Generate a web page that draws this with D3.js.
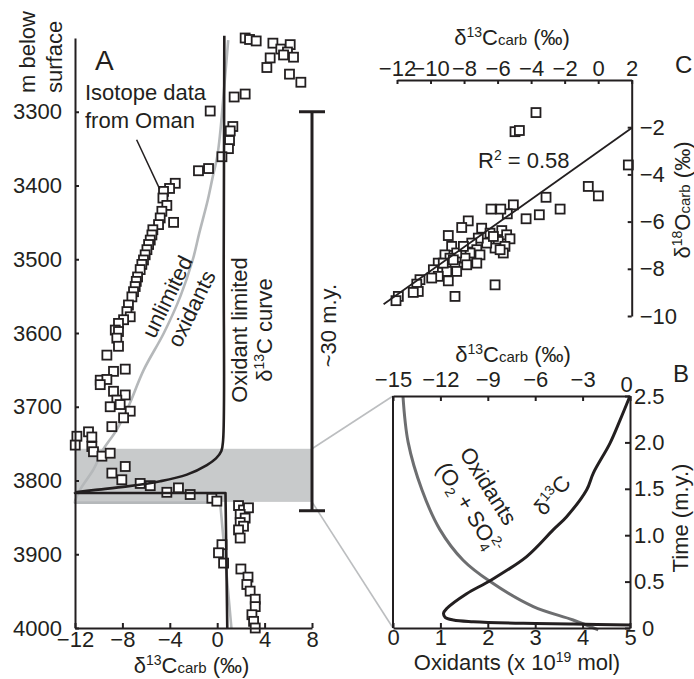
<!DOCTYPE html>
<html>
<head>
<meta charset="utf-8">
<script src="https://cdn.jsdelivr.net/npm/d3@7"></script>
<style>
  body { margin: 0; background: #fff; }
</style>
</head>
<body>
<svg id="chart"></svg>
<script>
// ---- panel A: Oman isotope data (depth in m, d13C in permil)
const omanDepth = [3200,3202,3204,3207,3215,3209,3219,3227,3223,3226,3240,3249,3260,3280,3276,3299,3320,3326,3339,3350,3361,3377,3380,
  3397,3404,3408,3417,3427,3435,3444,3450,3453,3460,3467,3474,3480,3487,3494,3501,3507,3514,3524,3530,3537,3544,3551,3562,3571,3578,3582,3587,3596,3598,3607,3618,3630,3652,3649,3664,3663,3670,3679,3684,3691,3700,3697,3706,3715,3727,
  3740,3734,3741,3752,3754,3761,3767,3763,3781,3790,3799,3804,3807,3816,3810,3819,3824,3828,
  3834,3840,3837,3846,3851,3857,3862,3867,3878,3887,3898,3912,3920,3931,3941,3950,3961,3971,3982,3991,4000];
const omanD13C = [2.36,2.73,3.29,4.70,5.37,6.16,5.93,4.47,5.60,6.44,4.19,6.10,7.06,1.43,2.36,-0.59,1.32,1.10,1.04,0.95,0.4,-0.73,-1.58,
  -3.54,-4.02,-4.53,-4.58,-4.25,-4.67,-4.81,-3.68,-4.95,-5.43,-5.51,-5.65,-5.79,-5.93,-6.08,-6.22,-6.36,-6.50,-6.72,-6.83,-6.92,-7.06,-7.2,-7.49,-7.62,-7.34,-7.9,-8.33,-8.6,-8.33,-8.47,-8.33,-9.31,-8.75,-7.76,-9.87,-9.31,-9.87,-8.75,-7.76,-8.47,-9.03,-8.19,-7.34,-7.9,-8.89,
  -11.84,-10.86,-10.58,-11.98,-10.58,-10.44,-9.73,-9.03,-7.76,-8.89,-8.05,-6.5,-5.65,-4.25,-3.27,-2.28,-0.45,-0.03,
  1.80,2.22,2.64,1.94,2.36,1.94,2.22,1.80,1.94,0.40,0.11,0.54,2.0,2.6,2.5,2.78,3.21,3.21,2.93,3.07,3.21];

// model curves in panel A (smooth part first, then the straight "switch-off" segments)
const unlimitedDepth = [3203,3284,3329,3361,3390,3420,3465,3500,3550,3600,3650,3700,3731,3760,3785,3812,3828,3830,3830,4000];
const unlimitedD13C  = [0.93,0.5,0.25,0.0,-0.4,-0.8,-1.52,-2.05,-3.1,-4.5,-6.2,-7.5,-8.47,-9.7,-10.44,-11.56,-12,-12,0.25,1.2];
const unlimitedSmooth = 17;
const limitedDepth = [3197,3500,3745,3760,3770,3779,3792,3801,3808,3813,3816,3817,3817,4000];
const limitedD13C  = [0.6,0.55,0.5,0.35,-0.1,-0.87,-2.56,-4.81,-7.6,-10.44,-12,-12,0.7,0.85];
const limitedSmooth = 11;

const bandDepth = [3757, 3829];      // grey shaded interval
const scaleBarDepth = [3300, 3841];  // "~30 m.y." bar
const depthTicks = [3300,3400,3500,3600,3700,3800,3900,4000];
const aTicks = [-12,-8,-4,0,4,8];

// ---- panel C: d13C vs d18O cross plot
const cD13C = [-3.71,-4.96,-4.70,1.80,-0.59,0.01,-3.11,-2.27,-3.51,-4.30,-5.06,-5.42,-6.39,-5.81,-7.75,-8.14,-8.94,-6.95,-6.45,-5.75,
  -5.46,-5.26,-5.96,-5.56,-5.66,-6.15,-6.65,-7.15,-7.54,-7.24,-7.64,-7.05,-7.94,-8.74,-8.44,-9.14,-8.84,-9.54,-9.83,-8.54,
  -7.84,-7.24,-9.03,-8.44,-9.54,-9.93,-8.94,-10.63,-10.82,-10.73,-11.03,-11.92,-12.06,-8.54,-6.15,-9.24,-6.25,-5.85,-8.04,-8.64];
const cD18O = [-1.38,-2.19,-2.14,-3.60,-4.51,-4.91,-4.97,-5.47,-5.71,-5.88,-5.29,-5.67,-5.47,-5.47,-5.97,-6.25,-6.59,-6.28,-6.49,-6.38,
  -6.56,-6.73,-6.84,-7.05,-7.33,-7.12,-6.91,-6.70,-6.91,-7.19,-7.33,-7.41,-7.55,-7.05,-7.33,-7.41,-7.55,-7.76,-8.04,-7.90,
  -7.83,-7.76,-8.11,-8.11,-8.32,-8.39,-8.51,-8.46,-8.65,-8.96,-9.00,-9.17,-9.35,-9.17,-8.68,-7.76,-6.63,-7.19,-7.05,-7.62];
const regSlope = 0.505;
const regIntercept = -3.04;
const regRange = [-12.8, 2];
const cXTicks = [-12,-10,-8,-6,-4,-2,0,2];
const cYTicks = [-2,-4,-6,-8,-10];

// ---- panel B: model output vs time
const oxTime   = [2.5,2.0,1.49,1.06,0.73,0.5,0.23,0.086,-0.02];
const oxAmount = [0.21,0.32,0.61,0.99,1.48,2.05,2.96,3.80,4.33];
const bTime  = [2.5,2.24,1.99,1.67,1.49,1.2,1.06,0.77,0.51,0.37,0.21,0.16,0.115,0.086,0.068,0.05,0.043,0.032];
const bD13C  = [0,-0.63,-1.27,-2.32,-2.74,-4.01,-4.85,-6.54,-8.86,-10.34,-11.6,-11.8,-11.7,-11.18,-9.92,-6.75,-3.59,0];
const bOxTicks = [0,1,2,3,4,5];
const bCTicks = [-15,-12,-9,-6,-3,0];
const bTimeTicks = [0,0.5,1.0,1.5,2.0,2.5];

// set up constants
const width = 694;
const height = 679;
const font = "'Liberation Sans', Arial, Helvetica, sans-serif";
const ink = '#231f20';
const fs = 22;
const sq = 9;

const svg = d3.select('#chart')
  .attr('width', width)
  .attr('height', height)
  .attr('font-family', font);

function styleAxis(g) {
  g.attr('font-family', font).attr('font-size', fs);
  g.select('.domain').attr('stroke', ink).attr('stroke-width', 2);
  g.selectAll('.tick line').attr('stroke', ink).attr('stroke-width', 2);
  g.selectAll('.tick text').attr('fill', ink);
}

// text with a delta-13C style label: big / sup / big / small / big
function isoLabel(sel, iso, el, sub, tail) {
  sel.append('tspan').text('δ');
  sel.append('tspan').attr('font-size', 14).attr('dy', -8).text(iso);
  sel.append('tspan').attr('dy', 8).text(el);
  sel.append('tspan').attr('font-size', 15).text(sub);
  sel.append('tspan').text(tail);
  return sel;
}

// ================= panel A =================
const xA = d3.scaleLinear().domain([-12, 8]).range([75, 312]);
const yA = d3.scaleLinear().domain([3200, 4000]).range([38, 628]);

// shaded interval
svg.append('rect')
  .attr('x', xA(-12))
  .attr('y', yA(bandDepth[0]))
  .attr('width', xA(8) - xA(-12))
  .attr('height', yA(bandDepth[1]) - yA(bandDepth[0]))
  .attr('fill', '#c8cacb');

// zoom connectors to panel B
const xBox = d3.scaleLinear().domain([0, 5]).range([393, 630]);
const xBd = d3.scaleLinear().domain([-15, 0]).range([393, 630]);
const yB = d3.scaleLinear().domain([0, 2.5]).range([628, 396]);

svg.append('line')
  .attr('x1', xA(8)).attr('y1', yA(bandDepth[0]))
  .attr('x2', xBox(0)).attr('y2', yB(2.5))
  .attr('stroke', '#bcbec0').attr('stroke-width', 1.6);
svg.append('line')
  .attr('x1', xA(8)).attr('y1', yA(bandDepth[1]))
  .attr('x2', xBox(0)).attr('y2', yB(0))
  .attr('stroke', '#bcbec0').attr('stroke-width', 1.6);

const smoothA = d3.line()
  .x(d => xA(d[1]))
  .y(d => yA(d[0]))
  .curve(d3.curveCatmullRom.alpha(0.5));
const straightA = d3.line()
  .x(d => xA(d[1]))
  .y(d => yA(d[0]));

function drawModel(depths, vals, nSmooth, color) {
  const pts = d3.zip(depths, vals);
  const g = svg.append('g')
    .attr('fill', 'none')
    .attr('stroke', color)
    .attr('stroke-width', 2.6)
    .attr('stroke-linejoin', 'round');
  g.append('path').attr('d', smoothA(pts.slice(0, nSmooth)));
  g.append('path').attr('d', straightA(pts.slice(nSmooth - 1)));
}

// unlimited oxidants curve
drawModel(unlimitedDepth, unlimitedD13C, unlimitedSmooth, '#b5b8ba');

// data squares
svg.append('g')
  .selectAll('rect')
  .data(d3.zip(omanDepth, omanD13C))
  .enter()
  .append('rect')
  .attr('x', d => xA(d[1]) - sq / 2)
  .attr('y', d => yA(d[0]) - sq / 2)
  .attr('width', sq)
  .attr('height', sq)
  .attr('fill', '#fff')
  .attr('stroke', ink)
  .attr('stroke-width', 1.8);

// oxidant limited curve
drawModel(limitedDepth, limitedD13C, limitedSmooth, ink);

// axes
svg.append('g')
  .attr('transform', `translate(0, ${yA(4000)})`)
  .call(d3.axisBottom(xA).tickValues(aTicks).tickSizeInner(-5).tickSizeOuter(0).tickPadding(3))
  .call(styleAxis);

svg.append('g')
  .attr('transform', `translate(${xA(-12)}, 0)`)
  .call(d3.axisLeft(yA).tickValues(depthTicks).tickSizeInner(-4).tickSizeOuter(0).tickPadding(13).tickFormat(d3.format('d')))
  .call(styleAxis);

// scale bar
const barX = xA(8);
svg.append('line')
  .attr('x1', barX).attr('x2', barX)
  .attr('y1', yA(scaleBarDepth[0])).attr('y2', yA(scaleBarDepth[1]))
  .attr('stroke', ink).attr('stroke-width', 3);
scaleBarDepth.forEach(dep => {
  svg.append('line')
    .attr('x1', barX - 13).attr('x2', barX + 13)
    .attr('y1', yA(dep)).attr('y2', yA(dep))
    .attr('stroke', ink).attr('stroke-width', 3);
});

// labels panel A
svg.append('text')
  .attr('x', 95).attr('y', 70)
  .attr('font-size', 28).attr('fill', ink)
  .text('A');

const mLab = svg.append('text')
  .attr('transform', 'translate(35, 93) rotate(-90)')
  .attr('font-size', fs).attr('fill', ink);
mLab.append('tspan').attr('x', 0).attr('y', 0).text('m below');
mLab.append('tspan').attr('x', 0).attr('y', 27).text('surface');

svg.append('text')
  .attr('x', 85).attr('y', 100)
  .attr('font-size', fs).attr('fill', ink)
  .text('Isotope data');
svg.append('text')
  .attr('x', 85).attr('y', 128)
  .attr('font-size', fs).attr('fill', ink)
  .text('from Oman');
svg.append('line')
  .attr('x1', xA(-6.8)).attr('y1', yA(3338))
  .attr('x2', xA(-4.85)).attr('y2', yA(3405))
  .attr('stroke', ink).attr('stroke-width', 1.5);

const unl = svg.append('text')
  .attr('transform', 'translate(174, 300) rotate(-64)')
  .attr('font-size', fs).attr('fill', ink)
  .attr('text-anchor', 'middle');
unl.append('tspan').attr('x', 0).attr('y', 0).text('unlimited');
unl.append('tspan').attr('x', 0).attr('y', 27).text('oxidants');

const oxl = svg.append('text')
  .attr('transform', 'translate(247, 330) rotate(-90)')
  .attr('font-size', fs).attr('fill', ink)
  .attr('text-anchor', 'middle');
oxl.append('tspan').attr('x', 0).attr('y', 0).text('Oxidant limited');
const oxl2 = oxl.append('tspan').attr('x', 0).attr('y', 25);
oxl2.append('tspan').text('δ');
oxl2.append('tspan').attr('font-size', 14).attr('dy', -8).text('13');
oxl2.append('tspan').attr('dy', 8).text('C curve');

svg.append('text')
  .attr('transform', `translate(${barX + 24}, ${yA(3590)}) rotate(-90)`)
  .attr('font-size', fs).attr('fill', ink)
  .attr('text-anchor', 'middle')
  .text('~30 m.y.');

isoLabel(svg.append('text')
  .attr('x', (xA(-12) + xA(8)) / 2 - 2).attr('y', 673)
  .attr('font-size', fs).attr('fill', ink)
  .attr('text-anchor', 'middle'), '13', 'C', 'carb', ' (‰)');

// ================= panel C =================
const xC = d3.scaleLinear().domain([-12, 2]).range([397, 631.7]);
const yC = d3.scaleLinear().domain([0, -10]).range([80, 316]);

svg.append('g')
  .selectAll('rect')
  .data(d3.zip(cD13C, cD18O))
  .enter()
  .append('rect')
  .attr('x', d => xC(d[0]) - sq / 2)
  .attr('y', d => yC(d[1]) - sq / 2)
  .attr('width', sq)
  .attr('height', sq)
  .attr('fill', '#fff')
  .attr('stroke', ink)
  .attr('stroke-width', 1.8);

svg.append('line')
  .attr('x1', xC(regRange[0])).attr('y1', yC(regSlope * regRange[0] + regIntercept))
  .attr('x2', xC(regRange[1])).attr('y2', yC(regSlope * regRange[1] + regIntercept))
  .attr('stroke', ink).attr('stroke-width', 1.8);

svg.append('g')
  .attr('transform', `translate(0, ${yC(0)})`)
  .call(d3.axisTop(xC).tickValues(cXTicks).tickSizeInner(-4).tickSizeOuter(0).tickPadding(4))
  .call(styleAxis);

svg.append('g')
  .attr('transform', `translate(${xC(2)}, 0)`)
  .call(d3.axisRight(yC).tickValues(cYTicks).tickSizeInner(-4).tickSizeOuter(0).tickPadding(8))
  .call(styleAxis);

const r2 = svg.append('text')
  .attr('x', 478).attr('y', 168)
  .attr('font-size', fs).attr('fill', ink);
r2.append('tspan').text('R');
r2.append('tspan').attr('font-size', 14).attr('dy', -8).text('2');
r2.append('tspan').attr('dy', 8).text(' = 0.58');

svg.append('text')
  .attr('x', 675).attr('y', 73)
  .attr('font-size', 24).attr('fill', ink)
  .text('C');

isoLabel(svg.append('text')
  .attr('x', 512).attr('y', 45)
  .attr('font-size', fs).attr('fill', ink)
  .attr('text-anchor', 'middle'), '13', 'C', 'carb', ' (‰)');

isoLabel(svg.append('text')
  .attr('transform', 'translate(690, 200) rotate(-90)')
  .attr('font-size', fs).attr('fill', ink)
  .attr('text-anchor', 'middle'), '18', 'O', 'carb', ' (‰)');

// ================= panel B =================
// box side
svg.append('line')
  .attr('x1', xBox(0)).attr('x2', xBox(0))
  .attr('y1', yB(0)).attr('y2', yB(2.5))
  .attr('stroke', ink).attr('stroke-width', 2);

const lineOx = d3.line()
  .x(d => xBox(d[1]))
  .y(d => yB(d[0]))
  .curve(d3.curveCatmullRom.alpha(0.5));
const lineC = d3.line()
  .x(d => xBd(d[1]))
  .y(d => yB(d[0]))
  .curve(d3.curveCatmullRom.alpha(0.5));

svg.append('path')
  .datum(d3.zip(oxTime, oxAmount))
  .attr('d', lineOx)
  .attr('fill', 'none')
  .attr('stroke', '#6d6e70')
  .attr('stroke-width', 3);

svg.append('path')
  .datum(d3.zip(bTime, bD13C))
  .attr('d', lineC)
  .attr('fill', 'none')
  .attr('stroke', ink)
  .attr('stroke-width', 3);

svg.append('g')
  .attr('transform', `translate(0, ${yB(0)})`)
  .call(d3.axisBottom(xBox).tickValues(bOxTicks).tickSizeInner(-5).tickSizeOuter(0).tickPadding(1)
    .tickFormat(d3.format('d')))
  .call(styleAxis);

svg.append('g')
  .attr('transform', `translate(0, ${yB(2.5)})`)
  .call(d3.axisTop(xBd).tickValues(bCTicks).tickSizeInner(-5).tickSizeOuter(0).tickPadding(9)
    .tickFormat(d3.format('d')))
  .call(styleAxis)
  .selectAll('.tick text')
  .filter(d => d === 0)
  .attr('dx', -4)
  .attr('dy', 5);

svg.append('g')
  .attr('transform', `translate(${xBox(5)}, 0)`)
  .call(d3.axisRight(yB).tickValues(bTimeTicks).tickSizeInner(-5).tickSizeOuter(0).tickPadding(4)
    .tickFormat(d => d === 0 ? '0' : d3.format('.1f')(d)))
  .call(styleAxis)
  .selectAll('.tick text')
  .filter(d => d === 0)
  .attr('dx', 8);

isoLabel(svg.append('text')
  .attr('x', 513).attr('y', 362)
  .attr('font-size', fs).attr('fill', ink)
  .attr('text-anchor', 'middle'), '13', 'C', 'carb', ' (‰)');

const oxT = svg.append('text')
  .attr('x', 517).attr('y', 670)
  .attr('font-size', fs).attr('fill', ink)
  .attr('text-anchor', 'middle');
oxT.append('tspan').text('Oxidants (x 10');
oxT.append('tspan').attr('font-size', 14).attr('dy', -8).text('19');
oxT.append('tspan').attr('dy', 8).text(' mol)');

svg.append('text')
  .attr('transform', 'translate(688, 518) rotate(-90)')
  .attr('font-size', fs).attr('fill', ink)
  .attr('text-anchor', 'middle')
  .text('Time (m.y.)');

svg.append('text')
  .attr('x', 673).attr('y', 382)
  .attr('font-size', 24).attr('fill', ink)
  .text('B');

const oxB = svg.append('text')
  .attr('transform', 'translate(482, 490) rotate(58)')
  .attr('font-size', fs).attr('fill', ink)
  .attr('text-anchor', 'middle');
oxB.append('tspan').attr('x', 0).attr('y', 0).text('Oxidants');
const oxB2 = oxB.append('tspan').attr('x', 8).attr('y', 28);
oxB2.append('tspan').text('(O');
oxB2.append('tspan').attr('font-size', 14).attr('dy', 5).text('2');
oxB2.append('tspan').attr('dy', -5).text(' + SO');
oxB2.append('tspan').attr('font-size', 14).attr('dy', 5).text('4');
oxB2.append('tspan').attr('font-size', 14).attr('dx', -7).attr('dy', -14).text('2-');

const dC = svg.append('text')
  .attr('transform', 'translate(558, 500) rotate(-50)')
  .attr('font-size', fs).attr('fill', ink)
  .attr('text-anchor', 'middle');
dC.append('tspan').text('δ');
dC.append('tspan').attr('font-size', 14).attr('dy', -8).text('13');
dC.append('tspan').attr('dy', 8).text('C');
</script>
</body>
</html>
